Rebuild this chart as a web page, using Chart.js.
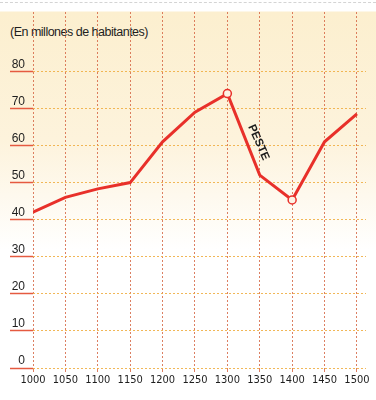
<!DOCTYPE html>
<html>
<head>
<meta charset="utf-8">
<script src="https://cdn.jsdelivr.net/npm/chart.js@4/dist/chart.umd.min.js"></script>
<style>
  html, body { margin: 0; padding: 0; }
  body {
    width: 376px; height: 400px; position: relative; overflow: hidden;
    background: linear-gradient(to bottom, #fff 0, #fff 11px, #fcefcf 12px, #fdf3dc 140px, #fff 250px);
  }
  #scan { position: absolute; left: 0; right: 0; top: 2px; border-top: 1px dashed #d4d4d4; }
  #unit {
    position: absolute; left: 10px; top: 25px;
    font: 12.5px "Liberation Sans", Arial, sans-serif; color: #1e1e1e; letter-spacing: -0.5px;
  }
  canvas { position: absolute; left: 0; top: 0; }
</style>
</head>
<body>
<div id="scan"></div>
<div id="unit">(En millones de habitantes)</div>
<canvas id="chart" width="376" height="400"></canvas>
<script>
// population of Europe, millions
const years = [1000, 1050, 1100, 1150, 1200, 1250, 1300, 1350, 1400, 1450, 1500];
const population = [42, 46, 48.3, 50, 61, 69, 74, 52, 45.3, 61, 68.5];
const markedYears = [1300, 1400];
const yTicks = [0, 10, 20, 30, 40, 50, 60, 70, 80];
const xTicks = [1000, 1050, 1100, 1150, 1200, 1250, 1300, 1350, 1400, 1450, 1500];
const notes = [{ text: 'PESTE', x: 1348, y: 60.8, angle: 66 }];

const red = '#e8302a';

const notePlugin = {
  id: 'notes',
  afterDatasetsDraw(chart) {
    const { ctx, scales: { x, y } } = chart;
    notes.forEach(n => {
      ctx.save();
      ctx.translate(x.getPixelForValue(n.x), y.getPixelForValue(n.y));
      ctx.rotate(n.angle * Math.PI / 180);
      ctx.font = 'bold 11.5px "Liberation Sans", Arial, sans-serif';
      ctx.fillStyle = '#1a1a1a';
      ctx.textAlign = 'center';
      ctx.textBaseline = 'middle';
      ctx.fillText(n.text, 0, 0);
      ctx.restore();
    });
  }
};

new Chart(document.getElementById('chart'), {
  type: 'line',
  data: {
    datasets: [{
      data: years.map((yr, i) => ({ x: yr, y: population[i] })),
      borderColor: red,
      borderWidth: 3,
      tension: 0,
      pointRadius: years.map(yr => markedYears.includes(yr) ? 4 : 0),
      pointBackgroundColor: '#fdf3e4',
      pointBorderColor: red,
      pointBorderWidth: 1.5
    }]
  },
  options: {
    responsive: false,
    animation: false,
    layout: { padding: { top: 12, right: 10, left: 0, bottom: 0 } },
    plugins: { legend: { display: false }, tooltip: { enabled: false } },
    scales: {
      x: {
        type: 'linear',
        min: 1000,
        max: 1514,
        afterBuildTicks: s => { s.ticks = xTicks.map(v => ({ value: v })); },
        afterFit: s => { s.height = 32; },
        border: { display: false, dash: [2, 2] },
        grid: { color: 'rgba(214,105,70,0.85)', lineWidth: 1, tickLength: 4, tickColor: 'rgba(214,105,70,0.85)' },
        ticks: {
          padding: 2,
          color: '#1e1e1e',
          font: { family: '"DejaVu Sans Condensed", "Liberation Sans", sans-serif', size: 11 },
          callback: v => String(v)
        }
      },
      y: {
        min: 0,
        max: 96,
        afterBuildTicks: s => { s.ticks = yTicks.map(v => ({ value: v })); },
        afterFit: s => { s.width = 33; },
        border: { display: false, dash: [2, 2] },
        grid: { color: 'rgba(240,175,70,0.9)', lineWidth: 1, tickLength: 23, tickColor: '#e55a40', tickWidth: 1.5 },
        ticks: {
          padding: -15,
          labelOffset: -7,
          color: '#1e1e1e',
          font: { family: '"Liberation Sans", Arial, sans-serif', size: 12 }
        }
      }
    }
  },
  plugins: [notePlugin]
});
</script>
</body>
</html>
